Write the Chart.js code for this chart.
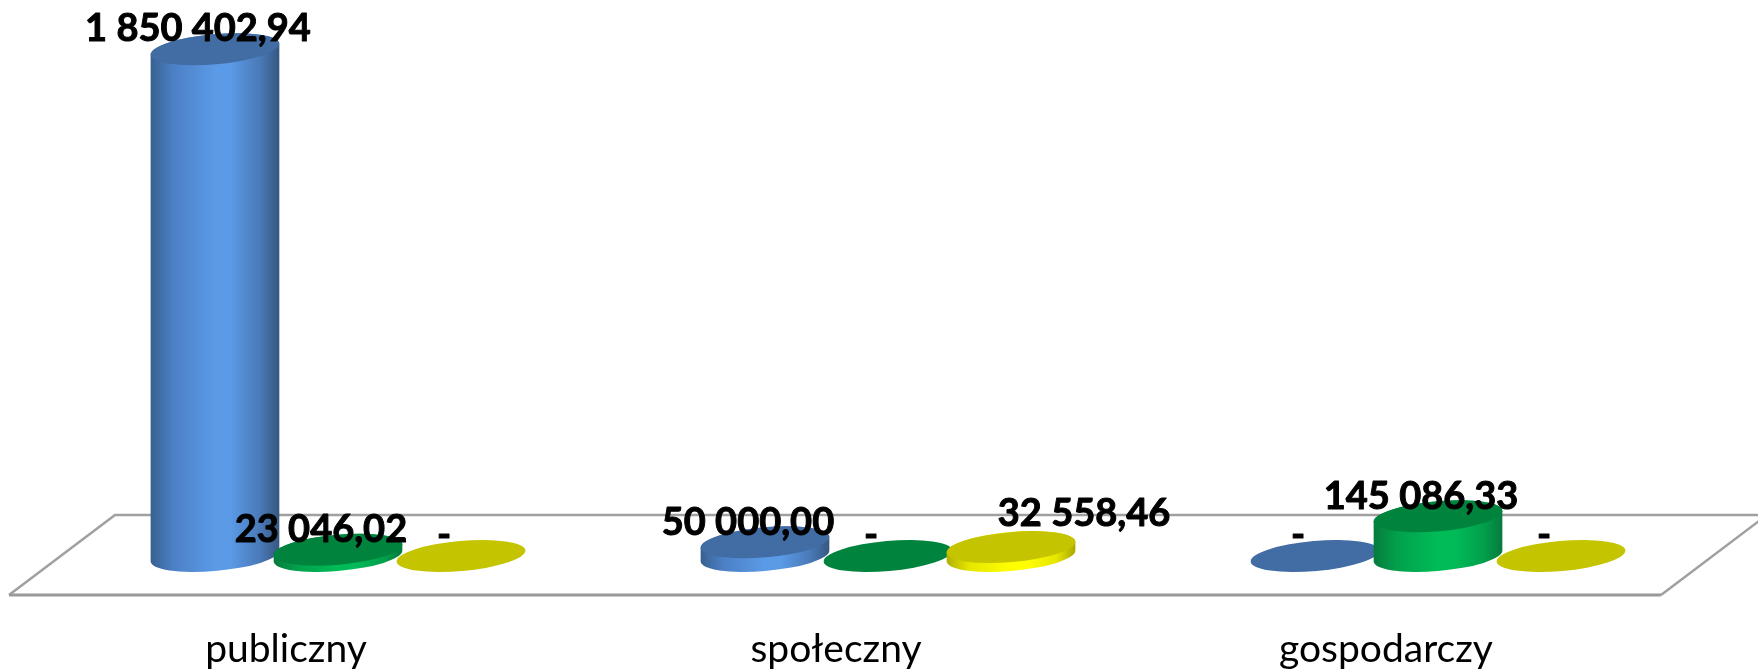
<!DOCTYPE html>
<html>
<head>
<meta charset="utf-8">
<title>Wykres</title>
<script src="https://cdn.jsdelivr.net/npm/chart.js@4/dist/chart.umd.min.js"></script>
<style>
  html, body { margin: 0; padding: 0; background: #fff; }
  #box { width: 1758px; height: 670px; }
</style>
</head>
<body>
<div id="box"><canvas id="myChart"></canvas></div>
<script>
//Chart data
const categories = ["publiczny", "społeczny", "gospodarczy"];
const blueValues = [1850402.94, 50000.00, 0];
const greenValues = [23046.02, 0, 145086.33];
const yellowValues = [0, 32558.46, 0];

//Colours for the cylinders: top face, then the side from left to right
const blueStyle = { top: "#416ca4", side: ["#37608f", "#4c80c6", "#5b9ae6", "#5b9ae6", "#4a79b8", "#35577f"] };
const greenStyle = { top: "#00843d", side: ["#067a3c", "#02a04c", "#00bc58", "#00bc58", "#02a04c", "#067a3c"] };
const yellowStyle = { top: "#c4c400", side: ["#b0b000", "#e6e600", "#ffff00", "#ffff00", "#e6e600", "#a8a800"] };

const labelFont = "bold 38px Lato";
const tiltAngle = -5 * Math.PI / 180;

//Same format as the source: spaces for thousands, comma for decimals, dash for zero
function formatValue(v) {
    if (v === 0) return "-";
    var parts = v.toFixed(2).split(".");
    return parts[0].replace(/\B(?=(\d{3})+$)/g, " ") + "," + parts[1];
}

//The floor of the 3D chart, hung off the chart area and the zero line
const floorPlugin = {
    id: "floor",
    beforeDatasetsDraw(chart) {
        const ctx = chart.ctx;
        const area = chart.chartArea;
        const zero = chart.scales.y.getPixelForValue(0);
        ctx.save();
        ctx.strokeStyle = "#a0a0a0";
        ctx.lineWidth = 2.5;
        ctx.beginPath();
        ctx.moveTo(area.right - 52, zero + 39);
        ctx.lineTo(area.right + 54, zero - 41);
        ctx.lineTo(area.left + 52, zero - 41);
        ctx.lineTo(area.left - 54, zero + 39);
        ctx.stroke();
        //front edge is heavier
        ctx.strokeStyle = "#999";
        ctx.lineWidth = 3;
        ctx.beginPath();
        ctx.moveTo(area.left - 54, zero + 39);
        ctx.lineTo(area.right - 52, zero + 39);
        ctx.stroke();
        ctx.restore();
    }
};

//Draw each bar element as a tilted cylinder
function drawCylinder(ctx, bar, style) {
    const rx = bar.width / 2;
    const ry = 15;
    const t0 = Math.atan2(-ry * Math.sin(tiltAngle), rx * Math.cos(tiltAngle));
    const left = bar.x - rx;

    if (bar.base - bar.y > 0.5) {
        var grad = ctx.createLinearGradient(left, 0, left + bar.width, 0);
        [0, 0.18, 0.5, 0.62, 0.85, 1].forEach(function(stop, i) {
            grad.addColorStop(stop, style.side[i]);
        });
        ctx.fillStyle = grad;
        ctx.beginPath();
        ctx.ellipse(bar.x, bar.base, rx, ry, tiltAngle, t0, t0 + Math.PI);
        ctx.ellipse(bar.x, bar.y, rx, ry, tiltAngle, t0 + Math.PI, t0 + 2 * Math.PI);
        ctx.closePath();
        ctx.fill();
    }
    ctx.fillStyle = style.top;
    ctx.beginPath();
    ctx.ellipse(bar.x, bar.y, rx, ry, tiltAngle, 0, 2 * Math.PI);
    ctx.fill();
}

const cylinderPlugin = {
    id: "cylinders",
    afterDatasetsDraw(chart) {
        const ctx = chart.ctx;
        const count = chart.data.labels.length;
        ctx.save();

        //Left to right, each one lies over the one before
        for (var c = 0; c < count; c++) {
            chart.data.datasets.forEach(function(ds, d) {
                drawCylinder(ctx, chart.getDatasetMeta(d).data[c], ds.cylinder);
            });
        }

        //Value labels sit up and left of the top, as in a 3D chart
        ctx.fillStyle = "#000";
        ctx.strokeStyle = "#000";
        ctx.lineWidth = 1;
        ctx.lineJoin = "round";
        ctx.font = labelFont;
        ctx.textAlign = "center";
        ctx.textBaseline = "middle";
        chart.data.datasets.forEach(function(ds, d) {
            chart.getDatasetMeta(d).data.forEach(function(bar, c) {
                var moved = (ds.labelMoved || {})[c] || [0, 0];
                var text = formatValue(ds.data[c]);
                var x = bar.x - 17 + moved[0];
                var y = bar.y - 20 + moved[1];
                ctx.fillText(text, x, y);
                ctx.strokeText(text, x, y);
            });
        });
        ctx.restore();
    }
};

function makeDataset(values, style) {
    return {
        data: values,
        backgroundColor: "transparent",
        borderWidth: 0,
        cylinder: style,
        categoryPercentage: 0.671,
        barPercentage: 1.05
    };
}

const yellowSet = makeDataset(yellowValues, yellowStyle);
yellowSet.labelMoved = { 1: [90, -13] }; //this label was dragged aside in the source

const config = {
    type: "bar",
    data: {
        labels: categories,
        datasets: [makeDataset(blueValues, blueStyle), makeDataset(greenValues, greenStyle), yellowSet]
    },
    options: {
        responsive: true,
        maintainAspectRatio: false,
        animation: false,
        layout: { padding: { left: 63, right: 45, top: 11, bottom: 0 } },
        plugins: { legend: { display: false }, tooltip: { enabled: false } },
        scales: {
            x: {
                afterFit: function(scale) { scale.height = 114; },
                grid: { display: false, drawTicks: false },
                border: { display: false },
                ticks: {
                    color: "#000",
                    font: { family: "Lato", size: 39 },
                    padding: 70,
                    maxRotation: 0,
                    labelOffset: -52
                }
            },
            y: { display: false, min: 0, max: 1990000 }
        }
    },
    plugins: [floorPlugin, cylinderPlugin]
};

var myChart = new Chart(document.getElementById("myChart").getContext("2d"), config);
</script>
</body>
</html>
